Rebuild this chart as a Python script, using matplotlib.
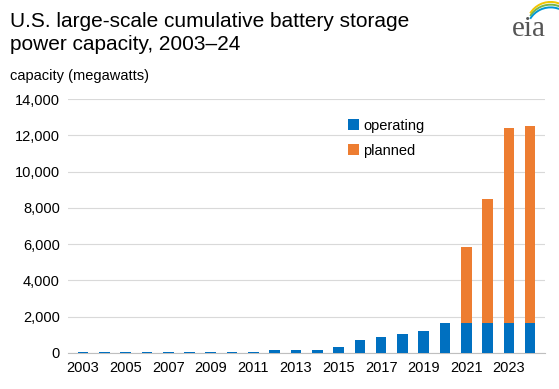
import matplotlib.pyplot as plt
from matplotlib.patches import Arc

years = list(range(2003, 2025))
operating = [40, 40, 40, 40, 40, 45, 45, 50, 50, 150, 160, 170, 330,
             720, 870, 1030, 1215, 1655, 1655, 1655, 1655, 1655]
totals = [40, 40, 40, 40, 40, 45, 45, 50, 50, 150, 160, 170, 330,
          720, 870, 1030, 1215, 1655, 5850, 8480, 12400, 12510]
planned = [t - o for t, o in zip(totals, operating)]
tick_years = list(range(2003, 2024, 2))

plt.rcParams['font.family'] = ['Liberation Sans', 'DejaVu Sans']

fig = plt.figure(figsize=(5.59, 3.89), dpi=100)
ax = fig.add_axes([0.122, 0.093, 0.853, 0.652])

ax.bar(years, operating, width=0.5, color='#0070c0', label='operating', zorder=3)
ax.bar(years, planned, width=0.5, bottom=operating, color='#ed7d31',
       label='planned', zorder=3)

ax.set_xlim(2002.3, 2024.7)
ax.set_ylim(0, 14000)
ax.set_yticks(range(0, 14001, 2000))
ax.set_yticklabels([f'{v:,}' for v in range(0, 14001, 2000)], fontsize=10.5)
ax.set_xticks(tick_years)
ax.set_xticklabels([str(y) for y in tick_years], fontsize=10.5)
ax.tick_params(length=0, pad=6)
ax.grid(axis='y', color='#d9d9d9', linewidth=0.8, zorder=0)
for s in ['left', 'right', 'top']:
    ax.spines[s].set_visible(False)
ax.spines['bottom'].set_color('#bfbfbf')

ax.legend(loc='upper left', bbox_to_anchor=(0.56, 0.975), frameon=False,
          fontsize=10.5, handlelength=0.7, handleheight=0.7,
          handletextpad=0.3, labelspacing=0.75)

fig.text(0.018, 0.97, 'U.S. large-scale cumulative battery storage\npower capacity, 2003\u201324',
         fontsize=15, va='top', ha='left', linespacing=1.3)
fig.text(0.018, 0.805, 'capacity (megawatts)', fontsize=10.5, va='center', ha='left')

# eia logo
fig.text(0.947, 0.925, 'eia', fontsize=21, family='Liberation Serif',
         color='#555555', ha='center', va='center')
for dy, c in [(0.0, '#f2c500'), (-0.007, '#7ab648'), (-0.014, '#0096d6')]:
    fig.add_artist(Arc((0.985, 0.935 + dy), 0.085, 0.12, theta1=20, theta2=140,
                       color=c, linewidth=1.4, transform=fig.transFigure))

fig.savefig('out.png', dpi=100)
